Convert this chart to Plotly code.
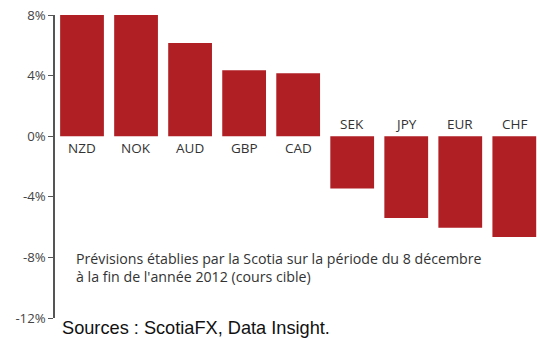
import plotly.graph_objects as go

currencies = ["NZD", "NOK", "AUD", "GBP", "CAD", "SEK", "JPY", "EUR", "CHF"]
changes = [8.0, 8.0, 6.15, 4.35, 4.15, -3.45, -5.4, -6.05, -6.65]
tick_vals = [8, 4, 0, -4, -8, -12]
tick_text = ["8%", "4%", "0%", "-4%", "-8%", "-12%"]
note_lines = ["Prévisions établies par la Scotia sur la période du 8 décembre",
              "à la fin de l'année 2012 (cours cible)"]
source = "Sources : ScotiaFX, Data Insight."

bar_color = "#b01f24"
font_fam = "Open Sans, sans-serif"

fig = go.Figure()
fig.add_trace(go.Bar(x=list(range(len(currencies))), y=changes, width=0.81,
                     marker=dict(color=bar_color, line=dict(width=0))))

for i, (c, v) in enumerate(zip(currencies, changes)):
    fig.add_annotation(x=i, y=0, xref="x", yref="y", text=c, showarrow=False,
                       yanchor="top" if v > 0 else "bottom", yshift=-1 if v > 0 else 1,
                       font=dict(family=font_fam, size=13.5, color="#333333"))

fig.update_layout(
    width=537, height=339,
    margin=dict(l=55, r=0, t=15, b=21),
    plot_bgcolor="white", paper_bgcolor="white",
    showlegend=False,
    xaxis=dict(range=[-0.5, 8.42], visible=False, fixedrange=True),
    yaxis=dict(range=[-12, 8], tickvals=tick_vals, ticktext=tick_text,
               showgrid=False, zeroline=False, showline=True, linecolor="#555555",
               linewidth=1.5, ticks="outside", ticklen=5, tickcolor="#555555",
               tickfont=dict(family=font_fam, size=13.2, color="#444444")),
)

plot_h = 339 - 15 - 21
plot_w = 537 - 55
def px_to_paper(px, py):
    return (px - 55) / plot_w, 1 - (py - 15) / plot_h

for k, line in enumerate(note_lines):
    xp, yp = px_to_paper(74, 258 + 18 * k)
    fig.add_annotation(x=xp, y=yp, xref="paper", yref="paper", text=line, showarrow=False,
                       xanchor="left", yanchor="middle",
                       font=dict(family=font_fam, size=14.2, color="#333333"))

xp, yp = px_to_paper(60, 328)
fig.add_annotation(x=xp, y=yp, xref="paper", yref="paper", text=source, showarrow=False,
                   xanchor="left", yanchor="middle",
                   font=dict(family="Liberation Sans, Arial, sans-serif", size=18.2, color="#111111"))

fig.write_html("out.html")
